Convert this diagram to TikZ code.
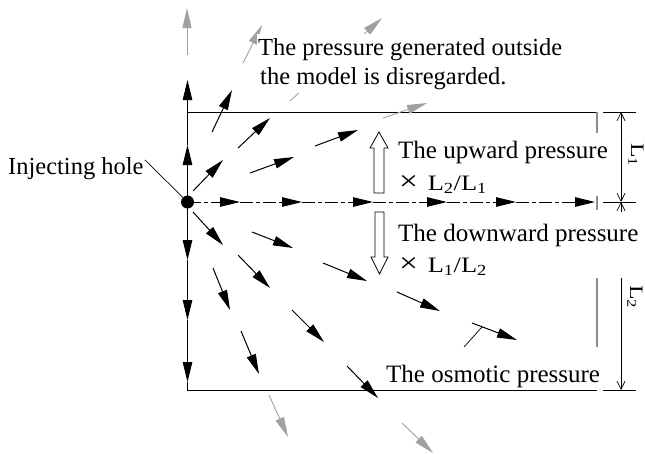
\documentclass[tikz,border=0pt]{standalone}
\usepackage{fontspec}
\setmainfont{Liberation Serif}
\usetikzlibrary{arrows.meta}
\newcommand{\bigtimes}{{\fontsize{28}{28}\selectfont ×}}
\begin{document}
\begin{tikzpicture}[x=1pt,y=-1pt,
  arr/.style={line width=1pt,-{Triangle[length=20pt,width=9.5pt]}},
  garr/.style={line width=0.9pt,color=black!37,-{Triangle[length=20pt,width=9pt]}},
  frame/.style={line width=1pt},
  grayline/.style={line width=1.6pt,color=black!45},
  dimline/.style={line width=0.7pt},
  dimtip/.style={-{Straight Barb[length=8pt,width=8pt]}},
  leader/.style={line width=0.7pt},
  hollow/.style={line width=0.8pt,fill=white},
  txt/.style={font=\fontsize{24.5}{26}\selectfont,inner sep=1pt},
  txtb/.style={font=\fontsize{25}{27}\selectfont,inner sep=1pt},
  sub/.style={font=\fontsize{22}{24}\selectfont,inner sep=1pt}]
\useasboundingbox (0,0) rectangle (645,453);

% injecting hole
\node[circle,fill=black,inner sep=0pt,minimum size=13pt] (hole) at (187.5,202) {};

% frame
\draw[frame] (187.5,112) -- (597,112);
\draw[frame] (187.5,382) -- (187.5,390) -- (597,390);
\draw[grayline] (597,112) -- (597,133);
\draw[grayline] (597,196) -- (597,210);
\draw[grayline] (597,278) -- (597,347);

% left vertical arrows
\draw[arr] (hole.center) -- (187.5,145);
\draw[arr] (187.5,145) -- (187.5,80);
\draw[arr] (hole.center) -- (187.5,260);
\draw[arr] (187.5,260) -- (187.5,320);
\draw[arr] (187.5,320) -- (187.5,382);

% horizontal dash-dot arrows
\foreach \a/\b in {188/240,240/302,302/373,373/447,447/516,516/595}
  \draw[arr,dash pattern=on 13pt off 3pt on 4pt off 3pt] (\a,202) -- (\b,202);

% radial black arrows
\foreach \x/\y/\u/\v in {
  212/132/232/90, 238/148/270/118, 193/191/223/160, 250/173/294/157,
  315/146/358/130, 193/212/223/245, 252/232/293/248, 323/263/367/281,
  238/255/270/288, 213/268/230/310, 397/292/440/311, 292/310/324/342,
  241/331/259/374, 347/366/378/398, 472/323/517/340}
  \draw[arr] (\x,\y) -- (\u,\v);

% gray arrows (outside the model)
\foreach \x/\y/\u/\v in {
  187/55/187/8, 243/63/262/25, 290/101/382/18, 383/118/427/103,
  269/395/288/437, 402/423/433/453}
  \draw[garr] (\x,\y) -- (\u,\v);

% hollow arrows
\draw[hollow] (374,193) -- (374,148) -- (370,148) -- (379,132) -- (388,148) -- (384,148) -- (384,193) -- cycle;
\draw[hollow] (375,212) -- (375,257) -- (371,257) -- (379.5,274) -- (388,257) -- (384,257) -- (384,212) -- cycle;

% dimensions
\draw[dimline] (603,112) -- (636,112);
\draw[dimline] (603,202) -- (636,202);
\draw[dimline] (603,390) -- (636,390);
\draw[dimline,{Straight Barb[length=8pt,width=8pt]}-{Straight Barb[length=8pt,width=8pt]}] (621,112) -- (621,202);
\draw[dimline,dimtip] (621,212) -- (621,202);
\draw[dimline,dimtip] (621,278) -- (621,390);
\node[rotate=-90,inner sep=0pt] (l1) at (636,155) {\scalebox{1.25}[1]{\fontsize{19}{20}\selectfont L\textsubscript{1}}};
\node[rotate=-90,inner sep=0pt] (l2) at (635,297) {\scalebox{1.25}[1]{\fontsize{19}{20}\selectfont L\textsubscript{2}}};

% texts
\node[txt,anchor=base west,fill=white,inner ysep=4pt] (d1) at (257,55) {The pressure generated outside};
\node[txt,anchor=base west,fill=white,inner ysep=4pt] (d2) at (259,84) {the model is disregarded.};

\node[txt,anchor=base west] (inj) at (7,174) {Injecting hole};
\draw[leader] ([yshift=-4pt]inj.north east) -- (hole);

\node[txtb,anchor=base west] (up1) at (397,158) {The upward pressure};
\node[sub,anchor=base west] (up2) at (398,190) {\scalebox{1.2}[1]{\bigtimes\hspace{8pt}L\textsubscript{2}/L\textsubscript{1}}};
\node[txtb,anchor=base west] (dn1) at (397,241) {The downward pressure};
\node[sub,anchor=base west] (dn2) at (398,272) {\scalebox{1.2}[1]{\bigtimes\hspace{8pt}L\textsubscript{1}/L\textsubscript{2}}};

\node[txtb,anchor=base west] (osm) at (385,382) {The osmotic pressure};
\coordinate (osmtick) at (482,327);
\coordinate (osmfoot) at (464,347);
\draw[leader] (osmfoot) -- (osmtick);
\end{tikzpicture}
\end{document}
